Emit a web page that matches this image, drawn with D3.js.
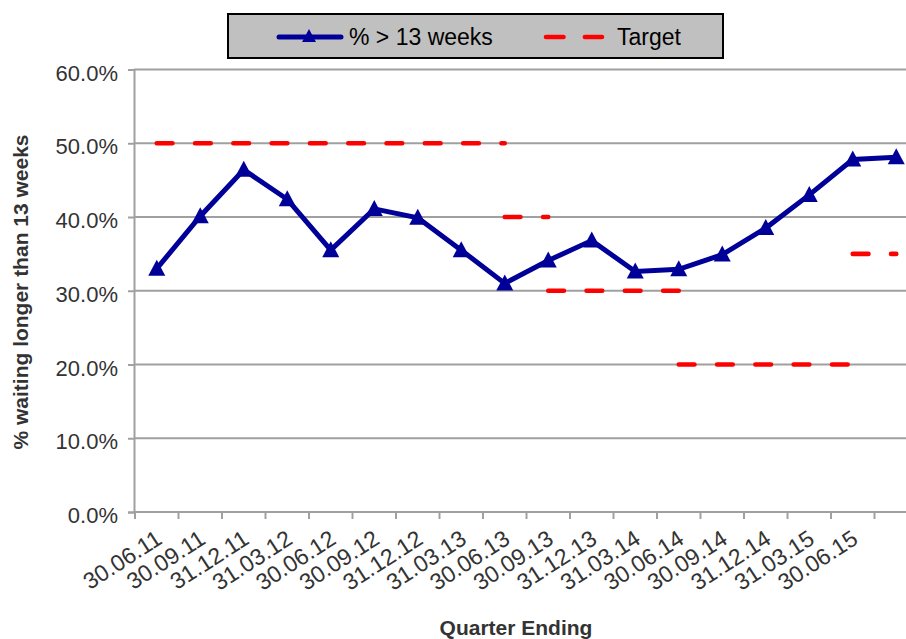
<!DOCTYPE html>
<html>
<head>
<meta charset="utf-8">
<script src="https://cdn.jsdelivr.net/npm/d3@7"></script>
<style>
  html, body { margin: 0; padding: 0; background: #fff; }
  svg { display: block; font-family: "Liberation Sans", Arial, sans-serif; }
</style>
</head>
<body>
<svg id="chart" width="906" height="639"></svg>
<script>
// ---- data ----
const categories = ["30.06.11","30.09.11","31.12.11","31.03.12","30.06.12","30.09.12","31.12.12","31.03.13","30.06.13","30.09.13","31.12.13","31.03.14","30.06.14","30.09.14","31.12.14","31.03.15","30.06.15",""];
const waitingPct = [33.0,40.1,46.4,42.4,35.5,41.1,39.9,35.5,31.0,34.1,36.8,32.6,32.9,34.9,38.5,43.0,47.8,48.1];
const targetValues = [50, 40, 30, 20, 35];
const targetFrom   = [0, 8, 9, 12, 16];
const targetTo     = [8, 9, 12, 16, 17];
const yTicks = [0, 10, 20, 30, 40, 50, 60];
const seriesNames = ["% > 13 weeks", "Target"];

// ---- layout ----
const svg = d3.select("#chart");
const plotLeft = 134, plotRight = 918, plotTop = 69.5, plotBottom = 512;
const idx = d3.range(categories.length);
const x = d3.scaleBand().domain(idx).range([135, 918]).padding(0);
const cx = i => x(i) + x.bandwidth() / 2;
const y = d3.scaleLinear().domain([0, 60]).range([plotBottom, plotTop]);

const gridColor = "#a0a0a0";
const blue = "#000099";
const red = "#ff0000";

// gridlines
svg.append("g").selectAll("line").data(yTicks.filter(d => d > 0)).join("line")
  .attr("x1", plotLeft).attr("x2", plotRight)
  .attr("y1", d => y(d)).attr("y2", d => y(d))
  .attr("stroke", gridColor).attr("stroke-width", 2);

// y axis
const yAxis = svg.append("g").attr("transform", `translate(${plotLeft},0)`)
  .call(d3.axisLeft(y).tickValues(yTicks).tickFormat(d => d.toFixed(1) + "%").tickSize(6).tickPadding(10));
yAxis.select(".domain").attr("stroke", gridColor).attr("stroke-width", 2);
yAxis.selectAll(".tick line").attr("stroke", gridColor).attr("stroke-width", 2);
yAxis.selectAll(".tick text").attr("font-size", 22).attr("fill", "#333").attr("dy", "0.48em")
  .attr("font-family", "Liberation Sans, Arial, sans-serif");

// x axis line and ticks (ticks between categories)
svg.append("line").attr("x1", plotLeft).attr("x2", plotRight).attr("y1", plotBottom).attr("y2", plotBottom)
  .attr("stroke", gridColor).attr("stroke-width", 2);
svg.append("g").selectAll("line").data(idx).join("line")
  .attr("x1", d => x(d)).attr("x2", d => x(d))
  .attr("y1", plotBottom).attr("y2", plotBottom + 7)
  .attr("stroke", gridColor).attr("stroke-width", 2);

// x tick labels (rotated)
svg.append("g").selectAll("text").data(idx).join("text")
  .attr("transform", d => `translate(${cx(d) + 6.75},542.5) rotate(-33)`)
  .attr("text-anchor", "end")
  .attr("font-size", 23).attr("fill", "#333")
  .text(d => categories[d]);

// axis titles
svg.append("text").attr("x", 516).attr("y", 635).attr("text-anchor", "middle")
  .attr("font-size", 21).attr("font-weight", "bold").attr("fill", "#333")
  .text("Quarter Ending");
svg.append("text").attr("transform", "translate(28,292) rotate(-90)").attr("text-anchor", "middle")
  .attr("font-size", 21).attr("font-weight", "bold").attr("fill", "#333")
  .text("% waiting longer than 13 weeks");

// target segments
const segLine = d3.line().x(d => cx(d[0])).y(d => y(d[1]));
svg.append("g").selectAll("path").data(targetValues.map((v, k) => [[targetFrom[k], v], [targetTo[k], v]])).join("path")
  .attr("d", segLine)
  .attr("fill", "none").attr("stroke", red).attr("stroke-width", 4.6)
  .attr("stroke-linecap", "round").attr("stroke-dasharray", "15.7 22.6");

// main series
const line = d3.line().x((d, i) => cx(i)).y(d => y(d));
svg.append("path").datum(waitingPct).attr("d", line)
  .attr("fill", "none").attr("stroke", blue).attr("stroke-width", 5).attr("stroke-linejoin", "miter");
const tri = "M0,-9L8.5,7L-8.5,7Z";
svg.append("g").selectAll("path").data(waitingPct).join("path")
  .attr("transform", (d, i) => `translate(${cx(i)},${y(d)})`)
  .attr("d", tri).attr("fill", blue);

// legend
const lg = svg.append("g");
lg.append("rect").attr("x", 228).attr("y", 14).attr("width", 495).attr("height", 44)
  .attr("fill", "#c0c0c0").attr("stroke", "#000").attr("stroke-width", 2);
lg.append("line").attr("x1", 279).attr("x2", 341).attr("y1", 37).attr("y2", 37)
  .attr("stroke", blue).attr("stroke-width", 5).attr("stroke-linecap", "round");
lg.append("path").attr("transform", "translate(309,37)").attr("d", "M0,-8L7,5L-7,5Z").attr("fill", blue);
lg.append("text").attr("x", 349).attr("y", 45).attr("font-size", 23).attr("fill", "#000").text(seriesNames[0]);
lg.append("line").attr("x1", 546).attr("x2", 602).attr("y1", 37).attr("y2", 37)
  .attr("stroke", red).attr("stroke-width", 4.6).attr("stroke-linecap", "round").attr("stroke-dasharray", "17.5 21.4");
lg.append("text").attr("x", 617).attr("y", 45).attr("font-size", 23).attr("fill", "#000").text(seriesNames[1]);
</script>
</body>
</html>
